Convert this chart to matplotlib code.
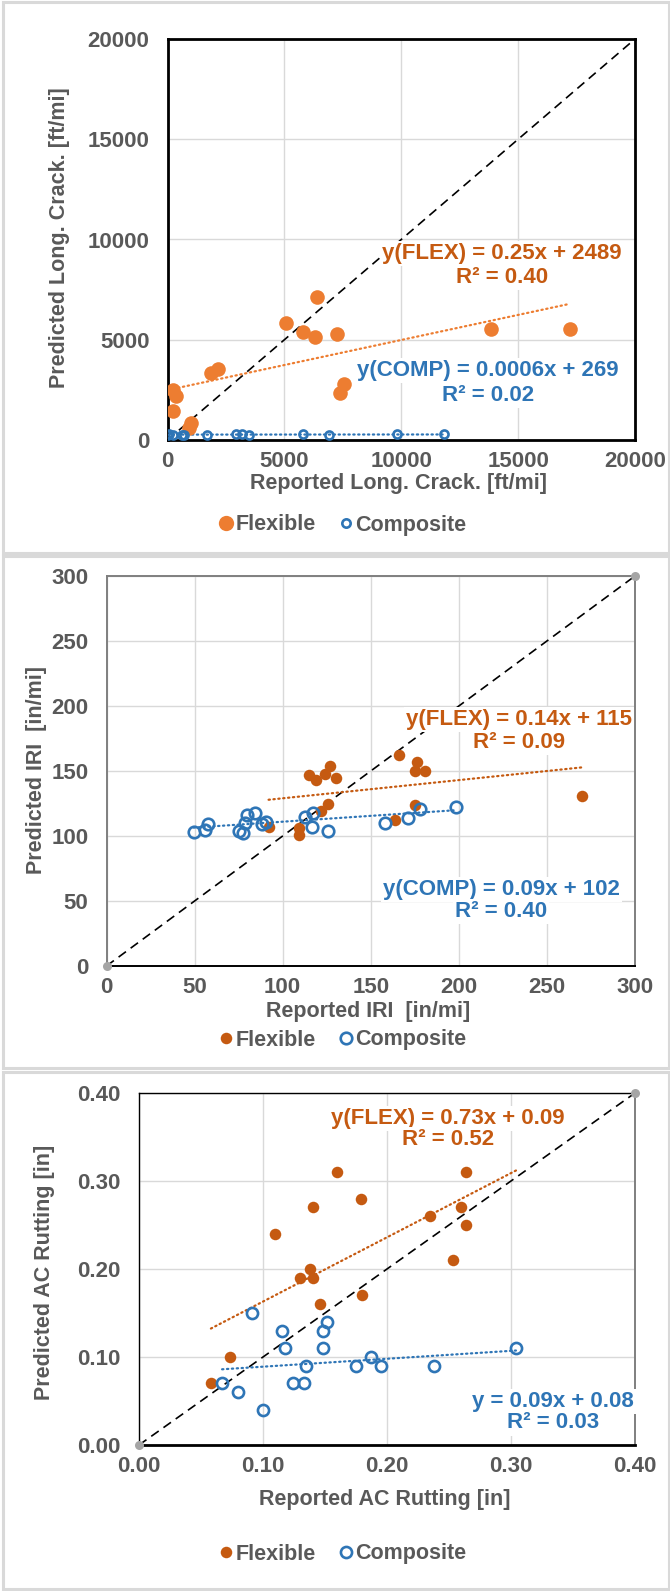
import matplotlib
matplotlib.use("Agg")
import matplotlib.pyplot as plt
from matplotlib.lines import Line2D
from matplotlib.patches import Rectangle
import numpy as np

plt.rcParams['font.family'] = ['Liberation Sans', 'DejaVu Sans']
plt.rcParams['font.weight'] = 'bold'

# ---------------- data ----------------
# Longitudinal cracking [ft/mi]
crack_flex_x = [250, 350, 250, 1000, 900, 1850, 2150, 5070, 5800, 6400, 6300, 7230, 7550, 7400, 13850, 17200]
crack_flex_y = [2480, 2180, 1450, 860, 600, 3330, 3550, 5820, 5400, 7130, 5150, 5290, 2780, 2350, 5520, 5520]
crack_comp_x = [0, 80, 230, 600, 700, 1710, 2930, 3170, 3500, 5790, 6890, 9810, 11810]
crack_comp_y = [270, 280, 260, 270, 260, 250, 300, 290, 270, 290, 260, 290, 300]
crack_flex_fit = (0.25, 2489, 0.40)
crack_comp_fit = (0.0006, 269, 0.02)

# IRI [in/mi]
iri_flex_x = [92, 109, 109, 115, 119, 124, 127, 130, 122, 126, 166, 164, 175, 176, 181, 175, 270]
iri_flex_y = [107, 106, 101, 147, 143, 148, 154, 145, 119, 125, 162, 112, 150, 157, 150, 124, 131]
iri_comp_x = [49.5, 56, 57.5, 75, 77.5, 78.5, 80, 84.5, 88.5, 90.5, 112.5, 117, 116.5, 126, 158, 171, 178, 198.5]
iri_comp_y = [103, 105, 109, 104, 102, 110, 116, 118, 109, 111, 115, 118, 107, 104, 110, 114, 121, 122]
iri_flex_fit = (0.14, 115, 0.09)
iri_comp_fit = (0.09, 102, 0.40)

# AC rutting [in]
rut_flex_x = [0.058, 0.073, 0.110, 0.130, 0.138, 0.140, 0.140, 0.146, 0.160, 0.179, 0.180, 0.235, 0.253, 0.260, 0.264, 0.264]
rut_flex_y = [0.07, 0.10, 0.24, 0.19, 0.20, 0.19, 0.27, 0.16, 0.31, 0.28, 0.17, 0.26, 0.21, 0.27, 0.31, 0.25]
rut_comp_x = [0.091, 0.115, 0.118, 0.148, 0.148, 0.152, 0.067, 0.080, 0.100, 0.124, 0.133, 0.135, 0.175, 0.187, 0.195, 0.238, 0.304]
rut_comp_y = [0.15, 0.13, 0.11, 0.13, 0.11, 0.14, 0.07, 0.06, 0.04, 0.07, 0.07, 0.09, 0.09, 0.10, 0.09, 0.09, 0.11]
rut_flex_fit = (0.73, 0.09, 0.52)
rut_comp_fit = (0.09, 0.08, 0.03)
rut_flex_fit_range = (0.058, 0.305)

# ---------------- styling ----------------
W, H = 670, 1591
GREY_TXT = '#595959'
GRID = '#D9D9D9'
ORANGE_LIGHT = '#ED7D31'
ORANGE_DARK = '#C55A11'
BLUE = '#2E75B6'
TICK_FS = 16
LABEL_FS = 15.5
EQ_FS = 16

fig = plt.figure(figsize=(W / 100, H / 100), dpi=100)


def rect(L, T, R, B):
    return [L / W, 1 - B / H, (R - L) / W, (B - T) / H]


def fx(px):
    return px / W


def fy(py):
    return 1 - py / H


def panel_border(T, B):
    fig.add_artist(Rectangle((fx(2.5), fy(B)), fx(666), (B - T) / H,
                             transform=fig.transFigure, fill=False,
                             ec='#D9D9D9', lw=2.2))


def dotted(ax, x0, x1, fit, color):
    xs = np.array([x0, x1])
    ax.plot(xs, fit[0] * xs + fit[1], color=color, lw=1.6,
            linestyle=(0, (0.6, 1.6)), dash_capstyle='round', zorder=3)


def one_to_one(ax, top, endpoints):
    ax.plot([0, top], [0, top], color='black', lw=1.2,
            linestyle=(0, (5.5, 3.5)), zorder=2)
    if endpoints:
        ax.plot([0, top], [0, top], 'o', color='#A5A5A5', ms=6.5,
                mec='none', clip_on=False, zorder=6)


def base_axes(ax, lim, step, fmt):
    ticks = np.arange(0, lim + step / 2, step)
    ax.set_xlim(0, lim)
    ax.set_ylim(0, lim)
    ax.set_xticks(ticks)
    ax.set_yticks(ticks)
    ax.set_xticklabels([fmt.format(t) for t in ticks])
    ax.set_yticklabels([fmt.format(t) for t in ticks])
    ax.grid(True, color=GRID, lw=1.0, zorder=0)
    ax.set_axisbelow(True)
    ax.tick_params(length=0, labelsize=TICK_FS, labelcolor=GREY_TXT)
    ax.tick_params(axis='y', pad=13)
    ax.tick_params(axis='x', pad=8)
    for lab in ax.get_xticklabels() + ax.get_yticklabels():
        lab.set_fontweight('bold')


def eq_text(ax, x, y, s, color):
    ax.text(x, y, s, ha='center', va='center', fontsize=EQ_FS,
            fontweight='bold', color=color, zorder=5,
            bbox=dict(facecolor='white', edgecolor='none', pad=1.5))


def axis_titles(xlabel, xpos, ylabel, ypos):
    fig.text(fx(xpos[0]), fy(xpos[1]), xlabel, ha='center', va='center',
             fontsize=LABEL_FS, fontweight='bold', color=GREY_TXT)
    fig.text(fx(ypos[0]), fy(ypos[1]), ylabel, ha='center', va='center',
             rotation=90, fontsize=LABEL_FS, fontweight='bold', color=GREY_TXT)


def legend(cy, flex_color, flex_ms, comp_ms, comp_mew):
    handles = [
        Line2D([], [], ls='none', marker='o', color=flex_color, mec='none', ms=flex_ms),
        Line2D([], [], ls='none', marker='o', mfc='none', mec=BLUE, ms=comp_ms, mew=comp_mew),
    ]
    leg = fig.legend(handles, ['Flexible', 'Composite'], loc='center',
                     bbox_to_anchor=(fx(343), fy(cy)), ncol=2, frameon=False,
                     handlelength=0.6, handletextpad=0.15, columnspacing=1.1,
                     prop=dict(size=LABEL_FS, weight='bold'))
    for t in leg.get_texts():
        t.set_color(GREY_TXT)


# ---------------- panel 1: longitudinal cracking ----------------
panel_border(2, 553)
ax1 = fig.add_axes(rect(167.5, 39, 635, 440))
base_axes(ax1, 20000, 5000, '{:.0f}')
for sp in ax1.spines.values():
    sp.set_color('black')
    sp.set_linewidth(2.0)
one_to_one(ax1, 20000, False)
dotted(ax1, min(crack_flex_x), max(crack_flex_x), crack_flex_fit, ORANGE_LIGHT)
dotted(ax1, min(crack_comp_x), max(crack_comp_x), crack_comp_fit, BLUE)
ax1.plot(crack_flex_x, crack_flex_y, 'o', color=ORANGE_LIGHT, ms=10.5, mec='none', zorder=4)
ax1.plot(crack_comp_x, crack_comp_y, 'o', mfc='none', mec=BLUE, ms=5.8, mew=1.9, zorder=4)
eq_text(ax1, 14300, 9300, 'y(FLEX) = {:.2f}x + {:d}'.format(crack_flex_fit[0], crack_flex_fit[1]), ORANGE_DARK)
eq_text(ax1, 14300, 8100, 'R² = {:.2f}'.format(crack_flex_fit[2]), ORANGE_DARK)
eq_text(ax1, 13700, 3450, 'y(COMP) = {:.4f}x + {:d}'.format(crack_comp_fit[0], crack_comp_fit[1]), BLUE)
eq_text(ax1, 13700, 2240, 'R² = {:.2f}'.format(crack_comp_fit[2]), BLUE)
axis_titles('Reported Long. Crack. [ft/mi]', (398, 483),
            'Predicted Long. Crack. [ft/mi]', (60, 238))
legend(525, ORANGE_LIGHT, 11, 6, 1.9)

# ---------------- panel 2: IRI ----------------
panel_border(556, 1068)
ax2 = fig.add_axes(rect(106.5, 576, 635, 966))
base_axes(ax2, 300, 50, '{:.0f}')
for sp in ax2.spines.values():
    sp.set_color('#7F7F7F')
    sp.set_linewidth(1.4)
ax2.spines['bottom'].set_color('black')
one_to_one(ax2, 300, True)
dotted(ax2, min(iri_flex_x), max(iri_flex_x), iri_flex_fit, ORANGE_DARK)
dotted(ax2, min(iri_comp_x), max(iri_comp_x), iri_comp_fit, BLUE)
ax2.plot(iri_flex_x, iri_flex_y, 'o', color=ORANGE_DARK, ms=8.3, mec='none', zorder=4)
ax2.plot(iri_comp_x, iri_comp_y, 'o', mfc='none', mec=BLUE, ms=8.3, mew=1.9, zorder=4)
eq_text(ax2, 234, 189.5, 'y(FLEX) = {:.2f}x + {:d}'.format(iri_flex_fit[0], iri_flex_fit[1]), ORANGE_DARK)
eq_text(ax2, 234, 171.7, 'R² = {:.2f}'.format(iri_flex_fit[2]), ORANGE_DARK)
eq_text(ax2, 224, 58.9, 'y(COMP) = {:.2f}x + {:d}'.format(iri_comp_fit[0], iri_comp_fit[1]), BLUE)
eq_text(ax2, 224, 41.6, 'R² = {:.2f}'.format(iri_comp_fit[2]), BLUE)
axis_titles('Reported IRI  [in/mi]', (368, 1011),
            'Predicted IRI  [in/mi]', (37, 770))
legend(1040, ORANGE_DARK, 8.3, 8.3, 1.9)

# ---------------- panel 3: AC rutting ----------------
panel_border(1072, 1589)
ax3 = fig.add_axes(rect(139, 1093, 635, 1445))
base_axes(ax3, 0.40, 0.10, '{:.2f}')
ax3.spines['top'].set_color('black')
ax3.spines['top'].set_linewidth(1.0)
ax3.spines['left'].set_color('black')
ax3.spines['left'].set_linewidth(1.0)
ax3.spines['right'].set_color('#7F7F7F')
ax3.spines['right'].set_linewidth(1.4)
ax3.spines['bottom'].set_color('black')
ax3.spines['bottom'].set_linewidth(2.0)
one_to_one(ax3, 0.40, True)
dotted(ax3, rut_flex_fit_range[0], rut_flex_fit_range[1], rut_flex_fit, ORANGE_DARK)
dotted(ax3, min(rut_comp_x), max(rut_comp_x), rut_comp_fit, BLUE)
ax3.plot(rut_flex_x, rut_flex_y, 'o', color=ORANGE_DARK, ms=8.3, mec='none', zorder=4)
ax3.plot(rut_comp_x, rut_comp_y, 'o', mfc='none', mec=BLUE, ms=8.0, mew=1.9, zorder=4)
eq_text(ax3, 0.249, 0.371, 'y(FLEX) = {:.2f}x + {:.2f}'.format(rut_flex_fit[0], rut_flex_fit[1]), ORANGE_DARK)
eq_text(ax3, 0.249, 0.3466, 'R² = {:.2f}'.format(rut_flex_fit[2]), ORANGE_DARK)
eq_text(ax3, 0.334, 0.0497, 'y = {:.2f}x + {:.2f}'.format(rut_comp_fit[0], rut_comp_fit[1]), BLUE)
eq_text(ax3, 0.334, 0.025, 'R² = {:.2f}'.format(rut_comp_fit[2]), BLUE)
axis_titles('Reported AC Rutting [in]', (385, 1500),
            'Predicted AC Rutting [in]', (45, 1272))
legend(1554, ORANGE_DARK, 8.3, 8.0, 1.9)

fig.savefig('out.png', dpi=100, facecolor='white')
